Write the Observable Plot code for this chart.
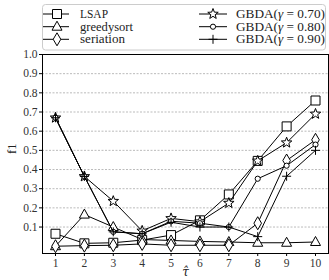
<!DOCTYPE html>
<html><head><meta charset="utf-8">
<script src="https://cdn.jsdelivr.net/npm/d3@7"></script>
<script src="https://cdn.jsdelivr.net/npm/@observablehq/plot@0.6"></script>
<style>
body{margin:0;background:#fff;}
#wrap{position:relative;width:329px;height:280px;font-family:"Liberation Serif","Times New Roman",serif;}
#wrap svg{display:block;}
#wrap svg text{font-family:"Liberation Serif","Times New Roman",serif;}
#wrap svg text.xlab{font-family:"DejaVu Serif",serif;}
#legend{position:absolute;left:0;top:0;}
</style></head><body><div id="wrap"></div>
<script>
const tau = [1,2,3,4,5,6,7,8,9,10];
const seriesNames = ["LSAP","greedysort","seriation","GBDA(γ = 0.70)","GBDA(γ = 0.80)","GBDA(γ = 0.90)"];
const lsap       = [0.065, 0.015, 0.018, 0.032, 0.058, 0.135, 0.27, 0.445, 0.625, 0.76];
const greedysort = [0.0, 0.165, 0.10, 0.035, 0.03, 0.025, 0.022, 0.018, 0.018, 0.022];
const seriation  = [0.0, 0.003, 0.005, 0.012, 0.005, 0.005, 0.005, 0.12, 0.447, 0.555];
const gbda070    = [0.67, 0.364, 0.235, 0.08, 0.145, 0.128, 0.225, 0.445, 0.54, 0.69];
const gbda080    = [0.67, 0.364, 0.075, 0.065, 0.13, 0.12, 0.1, 0.352, 0.42, 0.53];
const gbda090    = [0.67, 0.364, 0.075, 0.065, 0.125, 0.1, 0.1, 0.05, 0.365, 0.50];
const yTicks = [0.1,0.2,0.3,0.4,0.5,0.6,0.7,0.8,0.9,1.0];
const xLabel = "τ̂";
const yLabel = "f1";

const allValues = [lsap, greedysort, seriation, gbda070, gbda080, gbda090];

// custom marker shapes
const symSquare = {draw(c){const s=4.5;c.moveTo(-s,-s);c.lineTo(s,-s);c.lineTo(s,s);c.lineTo(-s,s);c.closePath();}};
const symTriangle = {draw(c){c.moveTo(0,-5.5);c.lineTo(5,3.5);c.lineTo(-5,3.5);c.closePath();}};
const symDiamond = {draw(c){c.moveTo(0,-6.5);c.lineTo(3.8,0);c.lineTo(0,6.5);c.lineTo(-3.8,0);c.closePath();}};
const symStar = {draw(c){const R=5.5,r=2.3;for(let i=0;i<10;i++){const a=-Math.PI/2+i*Math.PI/5;const rr=i%2?r:R;const x=rr*Math.cos(a),y=rr*Math.sin(a);if(i)c.lineTo(x,y);else c.moveTo(x,y);}c.closePath();}};
const symCircle = {draw(c){c.moveTo(2.6,0);c.arc(0,0,2.6,0,2*Math.PI);}};
const symPlus = {draw(c){c.moveTo(-4.5,0);c.lineTo(4.5,0);c.moveTo(0,-4.5);c.lineTo(0,4.5);}};
const symbols = [symSquare,symTriangle,symDiamond,symStar,symCircle,symPlus];

const rows = [];
seriesNames.forEach((s,i)=>tau.forEach((t,j)=>rows.push({series:s, idx:i, tau:t, value:allValues[i][j]})));

const seriesMarks = [];
seriesNames.forEach((s,i)=>{
  const d = rows.filter(r=>r.series===s);
  seriesMarks.push(Plot.line(d,{x:"tau",y:"value",stroke:"#000",strokeWidth:1}));
  seriesMarks.push(Plot.dot(d,{x:"tau",y:"value",symbol:()=>symbols[i],fill:"#fff",stroke:"#000",strokeWidth:1}));
});

const chart = Plot.plot({
  width:329, height:280,
  marginTop:54, marginBottom:27, marginLeft:42, marginRight:1,
  style:{fontFamily:"Liberation Serif, Times New Roman, serif", fontSize:"11.5px", color:"#333", background:"#fff"},
  x:{domain:[0.55,10.45]},
  y:{domain:[-0.038,1.0]},
  symbol:{type:"identity"},
  marks:[
    Plot.gridY(yTicks,{stroke:"#aaa",strokeOpacity:1,strokeDasharray:"2,1.5",strokeWidth:0.8}),
    Plot.axisX(tau,{tickFormat:d=>String(d),tickSize:3,tickPadding:2,label:null,stroke:"#000"}),
    Plot.axisY(yTicks,{tickFormat:d3.format(".1f"),tickSize:3,tickPadding:2,label:null,stroke:"#000"}),
    ...seriesMarks,
    Plot.frame({stroke:"#000",strokeWidth:1}),
    Plot.text([yLabel],{frameAnchor:"left",dx:-31,rotate:-90,fontSize:12.5,fill:"#222"}),
    Plot.text([xLabel],{frameAnchor:"bottom",dy:19,lineAnchor:"middle",fontSize:12,fontStyle:"italic",fill:"#222",className:"xlab"})
  ]
});
document.getElementById("wrap").appendChild(chart);
d3.select(chart).selectAll(".xlab text").attr("class","xlab");

// legend
const lg = d3.select("#wrap").append("svg").attr("id","legend").attr("width",329).attr("height",52);
lg.append("rect").attr("x",42.5).attr("y",4.5).attr("width",283).attr("height",45.5).attr("rx",3)
  .attr("fill","#fff").attr("stroke","#ccc");
const colX = [{l0:43,l1:69,m:57,t:80},{l0:199,l1:227,m:213,t:236}];
const rowY = [14,26.7,39.3];
const textW = [28,53,45,89,89,89];
seriesNames.forEach((s,i)=>{
  const c = colX[Math.floor(i/3)], y = rowY[i%3];
  lg.append("line").attr("x1",c.l0).attr("x2",c.l1).attr("y1",y).attr("y2",y).attr("stroke","#000");
  lg.append("path").attr("d",d3.symbol(symbols[i])()).attr("transform",`translate(${c.m},${y})`)
    .attr("fill","#fff").attr("stroke","#000");
  const t = lg.append("text").attr("x",c.t).attr("y",y+4)
    .attr("font-size",11.5).attr("fill","#222")
    .attr("textLength",textW[i]).attr("lengthAdjust","spacingAndGlyphs");
  const m = s.match(/^(.*\()γ( = .*)$/);
  if(m){
    t.append("tspan").text(m[1]);
    t.append("tspan").attr("font-style","italic").text("γ");
    t.append("tspan").text(m[2]);
  } else t.text(s);
});
</script></body></html>
